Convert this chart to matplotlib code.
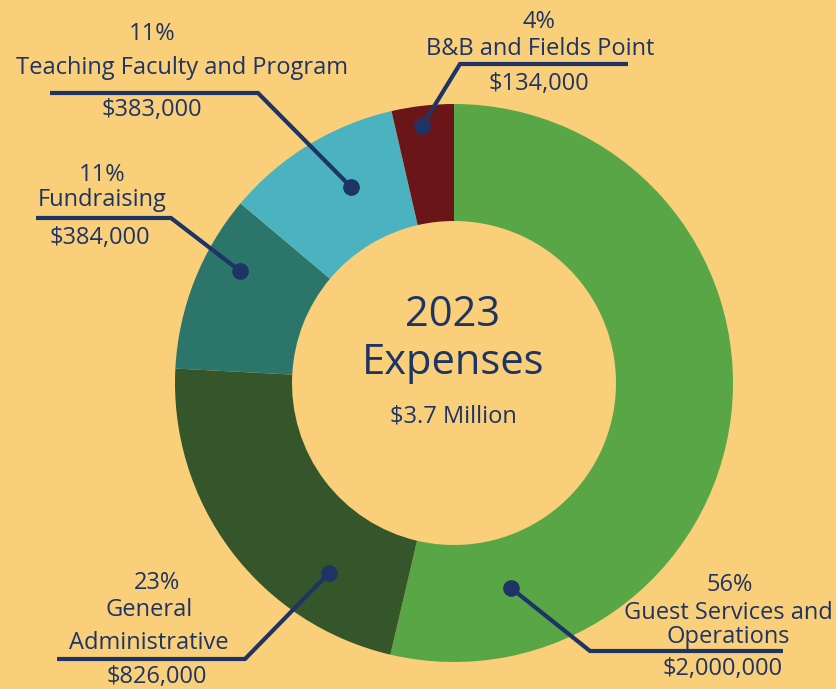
import matplotlib
matplotlib.use("Agg")
import matplotlib.pyplot as plt

# data
labels = ["Guest Services and\nOperations", "General\nAdministrative", "Fundraising",
          "Teaching Faculty and Program", "B&B and Fields Point"]
amounts = [2000000, 826000, 384000, 383000, 134000]
percents = ["56%", "23%", "11%", "11%", "4%"]
amount_text = ["$2,000,000", "$826,000", "$384,000", "$383,000", "$134,000"]
colors = ["#59a646", "#35562a", "#2b756a", "#4bb3c0", "#6a1619"]

bg = "#f9cf79"
navy = "#1e3464"
H = 689

plt.rcParams['font.family'] = ['Open Sans', 'DejaVu Sans']

fig = plt.figure(figsize=(8.36, 6.89), dpi=100, facecolor=bg)
ax = fig.add_axes([0, 0, 1, 1])
ax.set_facecolor(bg)

cx, cy, r = 454, H - 383, 279
ax.pie(amounts, colors=colors, startangle=90, counterclock=False,
       center=(cx, cy), radius=r, wedgeprops=dict(width=r - 162, linewidth=0),
       frame=True)
ax.set_xlim(0, 836)
ax.set_ylim(0, H)
ax.set_aspect("equal")
ax.axis("off")

# leader lines in pixel coords (x, y from top): dot, elbow, end
leaders = [
    [(511, 588), (590, 651), (783, 651)],
    [(329, 573), (245, 659), (57, 659)],
    [(240, 271), (171, 218), (36, 218)],
    [(351, 187), (258, 93), (50, 93)],
    [(422, 126), (460, 64), (628, 64)],
]
for pts in leaders:
    xs = [p[0] for p in pts]
    ys = [H - p[1] for p in pts]
    ax.plot(xs, ys, color=navy, lw=3, solid_joinstyle="miter", solid_capstyle="butt")
    ax.plot(xs[0], ys[0], "o", color=navy, ms=11)

fs = 17
# label text positions (center x, y from top); one y per line of the name
pct_pos = [(730, 585), (157, 583), (102, 175), (152, 34), (539, 22)]
name_pos = [(728, [613, 637]), (149, [610, 643]), (102, [200]), (182, [68]), (540, [49])]
amt_pos = [(723, 669), (157, 677), (100, 238), (152, 110), (539, 84)]
for i in range(len(labels)):
    ax.text(pct_pos[i][0], H - pct_pos[i][1], percents[i], color=navy, fontsize=fs,
            ha="center", va="center")
    for line, ly in zip(labels[i].split("\n"), name_pos[i][1]):
        ax.text(name_pos[i][0], H - ly, line, color=navy, fontsize=fs,
                ha="center", va="center")
    ax.text(amt_pos[i][0], H - amt_pos[i][1], amount_text[i], color=navy, fontsize=fs,
            ha="center", va="center")

ax.text(453, H - 315, "2023", color=navy, fontsize=30, ha="center", va="center")
ax.text(453, H - 363, "Expenses", color=navy, fontsize=30, ha="center", va="center")
ax.text(453, H - 417, "$3.7 Million", color=navy, fontsize=17, ha="center", va="center")

fig.savefig("out.png", dpi=100, facecolor=bg)
